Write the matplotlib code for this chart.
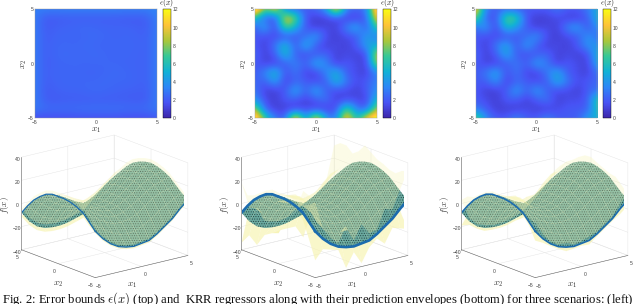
import matplotlib
matplotlib.use('Agg')
import matplotlib.pyplot as plt
import numpy as np
from matplotlib.colors import LinearSegmentedColormap

plt.rcParams['mathtext.fontset'] = 'cm'
plt.rcParams['font.family'] = 'Liberation Sans'
plt.rcParams['hatch.linewidth'] = 0.4
plt.rcParams['hatch.color'] = '#1d3a3a'

grid_x = [-5, -4.17, -3.33, -2.5, -1.67, -0.83, 0, 0.83, 1.67, 2.5, 3.33, 4.17, 5]
grid_y = [5, 4.17, 3.33, 2.5, 1.67, 0.83, 0, -0.83, -1.67, -2.5, -3.33, -4.17, -5]

# regressor surface, rows from x2=5 down to x2=-5
f_vals = [
    [-8, -17, -23, -26, -27, -27, -26, -24, -22, -16, -10, -3, 4],
    [0, -7, -13, -16, -18, -18, -16, -13, -10, -5, 0, 6, 10],
    [7, 2, -3, -7, -9, -10, -8, -5, -1, 4, 9, 13, 17],
    [12, 8, 3, -1, -3, -4, -2, 1, 6, 11, 15, 19, 22],
    [16, 12, 8, 4, 1, 0, 2, 6, 11, 16, 20, 23, 25],
    [18, 15, 11, 7, 4, 3, 5, 9, 14, 19, 23, 26, 27],
    [18, 15, 11, 7, 4, 3, 5, 9, 14, 19, 23, 26, 28],
    [18, 15, 11, 7, 4, 3, 5, 9, 14, 19, 23, 25, 27],
    [17, 14, 10, 6, 3, 2, 4, 8, 12, 17, 21, 24, 25],
    [15, 11, 7, 3, 0, -1, 1, 5, 9, 14, 18, 20, 22],
    [12, 8, 3, -1, -4, -4, -3, 0, 5, 10, 13, 15, 17],
    [6, 1, -4, -8, -11, -12, -11, -8, -4, 1, 5, 9, 12],
    [0, -8, -14, -18, -20, -21, -20, -19, -15, -10, -5, 2, 8],
]

eps_left = [
    [3.2, 3.2, 3.2, 3.2, 3.2, 3.2, 3.2, 3.2, 3.2, 3.2, 3.2, 3.2, 3.4],
    [3.1, 2.0, 2.0, 2.1, 2.1, 2.1, 2.1, 2.1, 2.1, 2.0, 2.0, 2.1, 3.2],
    [3.1, 2.0, 2.2, 2.3, 2.4, 2.5, 2.4, 2.3, 2.3, 2.3, 2.2, 2.1, 3.1],
    [3.1, 2.1, 2.3, 2.4, 2.3, 2.4, 2.5, 2.4, 2.3, 2.4, 2.3, 2.2, 3.1],
    [3.1, 2.1, 2.4, 2.4, 2.4, 2.5, 2.4, 2.3, 2.4, 2.3, 2.4, 2.2, 3.1],
    [3.1, 2.1, 2.4, 2.5, 2.4, 2.4, 2.5, 2.4, 2.3, 2.4, 2.3, 2.2, 3.1],
    [3.1, 2.1, 2.3, 2.4, 2.4, 2.4, 2.4, 2.4, 2.4, 2.3, 2.3, 2.2, 3.1],
    [3.1, 2.1, 2.4, 2.3, 2.4, 2.3, 2.3, 2.4, 2.5, 2.4, 2.3, 2.2, 3.1],
    [3.1, 2.1, 2.3, 2.4, 2.4, 2.4, 2.4, 2.5, 2.4, 2.4, 2.3, 2.2, 3.1],
    [3.1, 2.0, 2.2, 2.3, 2.3, 2.4, 2.5, 2.4, 2.3, 2.2, 2.2, 2.1, 3.1],
    [3.1, 2.1, 2.0, 2.1, 2.1, 2.1, 2.1, 2.1, 2.1, 2.1, 2.0, 2.1, 3.1],
    [3.0, 2.6, 2.6, 2.6, 2.6, 2.7, 2.7, 2.7, 2.7, 2.6, 2.6, 2.6, 3.0],
    [1.6, 1.6, 1.6, 1.6, 1.7, 1.7, 1.7, 1.7, 1.7, 1.6, 1.6, 1.6, 2.0],
]

eps_mid = [
    [14, 7, 11, 3, 2.5, 2, 2.5, 4, 12, 3, 2.5, 3, 13],
    [6, 2, 1.3, 10.5, 8, 1.5, 1, 1, 1.5, 1, 1, 2, 11],
    [2, 5, 1, 8, 5, 1.8, 1, 1.5, 1, 3.5, 5, 1.5, 7],
    [2, 1.5, 1.5, 1.5, 2, 2.5, 4.5, 1.5, 1, 1.5, 2, 4.5, 3],
    [2, 1, 3, 6, 1.6, 5.5, 2, 1, 1.5, 1, 2, 4.5, 5],
    [2.5, 1, 2, 6, 2, 1.5, 2, 2.5, 1, 1.5, 1, 1.5, 10],
    [2, 1.2, 1.2, 2, 3.5, 2, 5, 3.5, 1, 2, 1.5, 1, 9],
    [2, 3.5, 6, 1.5, 3, 1.2, 1.2, 3.5, 5.5, 2, 1.5, 1, 3.5],
    [2.5, 2, 4.5, 1, 2.5, 2, 1.5, 2, 5.5, 3, 1.5, 2, 3.5],
    [3, 1, 1, 2, 5, 2, 5, 2, 1.5, 1.5, 1, 2, 4],
    [4, 1.5, 1, 2, 2, 1, 2, 3, 1, 1.5, 1.5, 1, 6],
    [9, 2, 1, 1, 1, 1.5, 1, 1, 1.5, 8, 3, 2, 9],
    [13, 7, 3, 2, 13, 3, 12, 4, 3, 12, 5, 11, 13],
]

# half width of the envelope in the middle panel, spikes are far above the colour limit
env_mid = [
    [26, 12, 16, 6, 5, 4, 5, 7, 20, 7, 5, 6, 27],
    [9, 3, 3, 8, 12, 3, 2, 2, 3, 2, 2, 3, 25],
    [4, 5, 2, 8, 9, 3, 2, 3, 2, 4, 5, 3, 18],
    [3, 3, 3, 3, 3, 3, 4, 3, 2, 3, 3, 5, 8],
    [3, 2, 4, 6, 3, 5, 3, 2, 3, 2, 3, 5, 9],
    [4, 2, 3, 6, 3, 3, 3, 3, 2, 3, 2, 3, 14],
    [3, 2, 2, 3, 4, 3, 5, 4, 2, 3, 3, 2, 9],
    [3, 4, 6, 3, 4, 2, 2, 4, 5, 3, 3, 2, 6],
    [4, 3, 4, 2, 3, 3, 3, 3, 5, 4, 3, 3, 6],
    [4, 2, 2, 3, 5, 3, 5, 3, 3, 3, 2, 3, 6],
    [6, 3, 2, 3, 3, 2, 3, 4, 2, 3, 3, 2, 10],
    [15, 3, 2, 2, 2, 3, 2, 2, 3, 8, 4, 3, 19],
    [25, 9, 5, 3, 18, 5, 17, 6, 4, 15, 8, 17, 25],
]

eps_right = [
    [11, 3, 2, 2.5, 2, 2, 2, 2, 3, 2, 2, 3, 5],
    [8, 2, 1.5, 8, 7, 1.5, 1, 1, 1.5, 1, 1, 2, 5.5],
    [2.5, 4.5, 1, 6, 4, 2, 1, 1.5, 1, 3.5, 4.5, 1.5, 4],
    [2, 1.5, 1.5, 1.5, 2, 2.5, 4, 1.5, 1, 1.5, 2, 4, 2.5],
    [2, 1, 3, 5, 1.6, 4.5, 2, 1, 1.5, 1, 2, 4, 4],
    [2.5, 1, 2, 5, 2, 1.5, 2, 2.5, 1, 1.5, 1, 1.5, 5.5],
    [2, 1.2, 1.2, 2, 3, 2, 4.5, 3, 1, 2, 1.5, 1, 5],
    [2, 3, 5, 1.5, 3, 1.2, 1.2, 3, 5, 2, 1.5, 1, 3],
    [2, 2, 4, 1, 2.5, 2, 1.5, 2, 5, 3, 1.5, 2, 2.5],
    [2, 1, 1, 2, 4.5, 2, 4.5, 2, 1.5, 1.5, 1, 2, 3],
    [2, 1.5, 1, 2, 2, 1, 2, 3, 1, 1.5, 1.5, 2, 7],
    [3, 2, 1, 1, 1, 1.5, 1, 1, 1.5, 2, 2, 2, 6.5],
    [8, 3.5, 2, 2, 3.5, 2, 2, 3.5, 2, 2, 2, 4.5, 5],
]

parula_colors = [(.2422, .1504, .6603), (.2810, .3228, .9579), (.1786, .5289, .9682),
                 (.0689, .6948, .8394), (.2161, .7843, .5923), (.6720, .7793, .2227),
                 (.9970, .7659, .2199), (.9769, .9839, .0805)]
parula = LinearSegmentedColormap.from_list('parula', parula_colors)

W, H = 640, 304
fig = plt.figure(figsize=(W / 100, H / 100), dpi=100)


def px_rect(x0, y0, x1, y1):
    return [x0 / W, 1 - y1 / H, (x1 - x0) / W, (y1 - y0) / H]


def px_label(x, y, s, **kw):
    fig.text(x / W, 1 - y / H, s, fontsize=6.5, color='#333333', ha='center', va='center', **kw)


# top row: error bound maps
def heat_panel(eps, x0, x1, cx0, cx1):
    ax = fig.add_axes(px_rect(x0, 9.4, x1, 118.3))
    half = 10 / 24
    im = ax.imshow(eps, extent=(-5 - half, 5 + half, -5 - half, 5 + half), cmap=parula,
                   vmin=0, vmax=12, interpolation='bicubic', aspect='auto')
    ax.set_xlim(-5, 5)
    ax.set_ylim(-5, 5)
    ax.set_xticks([-5, 0, 5])
    ax.set_yticks([-5, 0, 5])
    ax.tick_params(labelsize=3.6, length=0, pad=1, colors='#444444')
    for s in ax.spines.values():
        s.set_linewidth(0.3)
        s.set_color('#999999')
    ax.set_xlabel('$x_1$', fontsize=6.5, labelpad=0.5, color='#333333')
    ax.set_ylabel('$x_2$', fontsize=6.5, labelpad=-1, color='#333333')
    cax = fig.add_axes(px_rect(cx0, 9.4, cx1, 118.3))
    cb = fig.colorbar(im, cax=cax)
    cb.set_ticks([0, 2, 4, 6, 8, 10, 12])
    cax.tick_params(labelsize=3.6, length=0, pad=1.5, colors='#444444')
    cb.outline.set_linewidth(0.3)
    cax.set_title(r'$\epsilon(x)$', fontsize=5.5, pad=0.5, color='#222222')


heat_panel(eps_left, 35, 156.7, 162.7, 170.7)
heat_panel(eps_mid, 255, 376.7, 382.7, 391)
heat_panel(eps_right, 475.7, 596.7, 602.7, 611)


# bottom row: regressor with prediction envelope
def surf_panel(eps, x0, edge_lw):
    ax = fig.add_axes(px_rect(x0, 127.5, x0 + 205, 289.5), projection='3d', computed_zorder=False)
    ax.patch.set_alpha(0)
    ax.set_proj_type('ortho')
    ax.view_init(elev=17.5, azim=-128.5)
    ax.set_box_aspect((1, 1, 0.82), zoom=1.16)
    X, Y = np.meshgrid(grid_x, grid_y)
    Z = np.array(f_vals, dtype=float)
    E = np.array(eps, dtype=float)
    ax.plot_surface(X, Y, Z - E, color='#f7f3ae', alpha=0.65, shade=False, linewidth=0,
                    rstride=1, cstride=1, zorder=1)
    main = ax.plot_surface(X, Y, Z, color='#69a89e', shade=False, linewidth=0,
                           rstride=1, cstride=1, zorder=2)
    main.set_hatch('.......')
    ax.plot_surface(X, Y, Z + E, color='#f8f5b0', alpha=0.3, shade=False, linewidth=0,
                    rstride=1, cstride=1, zorder=3)
    ax.plot(X[:, 0], Y[:, 0], Z[:, 0], color='#1c6cae', lw=edge_lw, zorder=4)
    ax.plot(X[-1, :], Y[-1, :], Z[-1, :], color='#1c6cae', lw=edge_lw, zorder=4)
    ax.set_xlim(-5, 5)
    ax.set_ylim(-5, 5)
    ax.set_zlim(-40, 40)
    ax.set_xticks([-5, 0, 5])
    ax.set_yticks([-5, 0, 5])
    ax.set_zticks([-40, -20, 0, 20, 40])
    ax.tick_params(labelsize=3.6, length=0, pad=-5, colors='#444444')
    ax.zaxis.set_tick_params(pad=-6.5)
    for axis in (ax.xaxis, ax.yaxis, ax.zaxis):
        axis.set_pane_color((1, 1, 1, 0))
        axis.pane.set_edgecolor('#dddddd')
        axis.pane.set_linewidth(0.4)
        axis.line.set_linewidth(0.4)
        axis.line.set_color('#666666')
        axis._axinfo['grid']['linewidth'] = 0.3
        axis._axinfo['grid']['color'] = '#e2e2e2'
        axis._axinfo['tick']['inward_factor'] = 0
        axis._axinfo['tick']['outward_factor'] = 0
    ax.zaxis.set_ticks_position('upper')
    px_label(x0 + 131.5, 285.5, '$x_1$')
    px_label(x0 + 57.5, 284.5, '$x_2$')
    px_label(x0 + 4.5, 205, '$f(x)$', rotation=90)
    return ax


surf_panel(eps_left, 0, 0.9)
surf_panel(env_mid, 220, 1.9)
surf_panel(eps_right, 440, 1.2)

fig.text(2 / W, 1 - 303 / H,
         r'Fig. 2: Error bounds $\epsilon(x)$ (top) and  KRR regressors along with their '
         r'prediction envelopes (bottom) for three scenarios: (left)',
         fontsize=9.1, family='Liberation Serif', color='#111111', va='baseline')

fig.savefig('out.png', dpi=100)
